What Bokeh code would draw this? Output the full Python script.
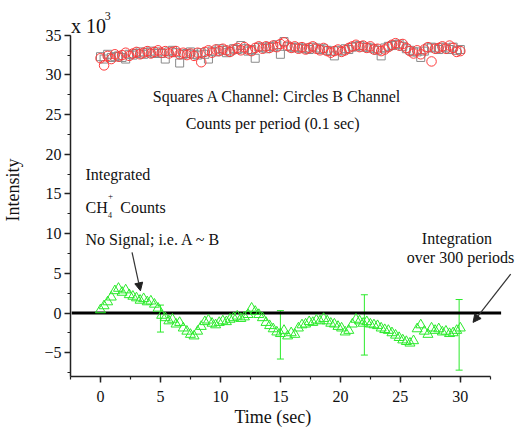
import math
from bokeh.plotting import figure
from bokeh.models import (Label, Arrow, NormalHead, Whisker, TeeHead, Title,
                          ColumnDataSource, SingleIntervalTicker)
from bokeh.embed import file_html
from bokeh.resources import INLINE

# ---------------- data (intensity in units of 10^3) ----------------
time_s = [round(i * 0.3, 1) for i in range(101)]

channel_a = [32.3, 32.0, 32.6, 32.2, 32.3, 32.4,
             32.2, 32.0, 32.6, 32.5, 32.7, 32.9, 32.6, 32.8, 33.0, 32.7,
             32.9, 32.7, 32.0, 32.9, 33.1, 32.8, 31.5, 32.6, 32.7,
             32.9, 32.6, 32.5, 32.8,
             32.6, 32.0, 33.0, 32.9, 33.3, 33.1, 32.8, 33.0, 33.3,
             33.2, 33.7, 33.3, 33.0, 33.2, 32.1, 33.5,
             33.5, 33.3, 33.6, 33.5, 33.8, 32.6, 34.2, 33.6, 33.5, 33.4,
             33.5, 33.3, 33.4, 33.2, 33.5, 33.4, 33.2, 33.3, 33.1,
             33.0, 32.4, 33.1, 33.0, 33.3, 33.2, 33.5,
             33.6, 33.7, 33.5, 33.5, 33.4, 33.3,
             33.1, 32.4, 33.4, 33.6, 33.7,
             33.8, 33.9, 33.6, 33.3,
             33.1, 32.9, 32.9, 32.2, 33.0,
             33.4, 33.5, 33.4, 33.2,
             33.5, 33.4, 33.2, 33.5, 33.1, 33.2]

channel_b = [32.1, 31.2, 32.4, 32.0, 32.6, 32.3,
             32.5, 32.8, 32.4, 32.7, 32.9, 32.6, 32.8, 33.0, 32.7, 32.9,
             33.1, 32.8, 33.0, 32.7, 32.9, 33.0, 32.6, 32.8, 32.5,
             32.7, 32.4, 32.8, 31.6,
             32.9, 33.1, 32.8, 33.2, 33.0, 33.3, 33.1, 32.9, 33.2,
             33.4, 33.1, 33.5, 33.2, 33.0, 33.4, 33.6,
             33.3, 33.6, 33.4, 33.7, 33.5, 33.9, 34.1, 33.7, 33.4, 33.6,
             33.3, 33.5, 33.2, 33.4, 33.6, 33.3, 33.1, 33.4, 33.0,
             32.8, 33.0, 33.2, 32.9, 33.1, 33.4, 33.6,
             33.8, 33.5, 33.7, 33.4, 33.6, 33.2,
             33.3, 33.0, 33.2, 33.5, 33.8,
             34.0, 33.7, 33.9, 33.4,
             33.0, 32.7, 33.1, 32.6, 33.2,
             33.5, 31.7, 33.3, 33.4,
             33.6, 33.3, 33.7, 33.4, 32.9, 33.0]

integrated = [0.4, 0.9, 1.4, 2.0, 2.8, 3.1, 2.6, 2.9, 2.3, 2.1,
              1.9, 1.6, 1.8, 1.4, 1.5, 1.1, 0.6, -0.3, -0.6, -1.0,
              -0.8, -1.4, -1.2, -1.9, -2.3, -2.7, -2.9, -2.3, -1.7, -1.1,
              -0.9, -1.3, -1.5, -1.2, -1.0, -1.1, -0.8, -0.6, -0.4, -0.7,
              -0.5, -0.2, 0.6, 0.2, -0.2, -0.6, -1.2, -1.6, -2.0, -2.4,
              -2.6, -2.2, -2.9, -2.5, -2.7, -1.9, -1.5, -1.4, -1.1, -1.2,
              -0.9, -1.0, -0.7, -1.0, -1.3, -1.4, -1.7, -1.9, -2.4, -2.2,
              -1.4, -0.8, -1.0, -1.3, -1.1, -1.4, -1.5, -1.6, -1.9, -2.1,
              -2.2, -2.5, -2.8, -3.1, -3.4, -3.6, -3.8, -3.5, -2.0, -1.5,
              -2.3, -2.7, -1.9, -2.2, -2.0, -2.4, -2.3, -2.6, -2.5, -2.2,
              -1.9]

err_x = [5.0, 15.0, 22.0, 29.9]
err_center = [-0.7, -2.75, -1.5, -2.75]
err_half = [1.7, 3.05, 3.8, 4.45]

zero_line_x = [-2.4, 33.4]
zero_line_y = [0, 0]

FONT = "Liberation Serif"
RED = "#ff3b3b"
GRAY = "#8a8a8a"
GREEN = "#2bea2b"
AXIS = "#222222"

p = figure(width=515, height=430, output_backend="svg", toolbar_location=None,
           x_range=(-2.5, 34.6), y_range=(-8, 39),
           min_border_left=69, min_border_right=0,
           min_border_top=3, min_border_bottom=54)
p.outline_line_color = None
p.grid.visible = False
p.background_fill_color = "white"
p.border_fill_color = "white"

p.xaxis.ticker = SingleIntervalTicker(interval=5, num_minor_ticks=2)
p.yaxis.ticker = SingleIntervalTicker(interval=5, num_minor_ticks=2)
p.xaxis.bounds = (-2.5, 32.5)
p.yaxis.bounds = (-8, 35)
for ax in (p.xaxis, p.yaxis):
    ax.axis_line_color = AXIS
    ax.axis_line_width = 1.5
    ax.major_tick_line_color = AXIS
    ax.minor_tick_line_color = AXIS
    ax.major_tick_line_width = 1.5
    ax.minor_tick_line_width = 1.2
    ax.major_tick_out = 6
    ax.major_tick_in = 0
    ax.minor_tick_out = 3
    ax.minor_tick_in = 0
    ax.major_label_text_font = FONT
    ax.major_label_text_font_size = "16px"
    ax.major_label_text_color = "#111111"
p.xaxis.major_label_standoff = 8
p.yaxis.major_label_standoff = 3

p.yaxis.axis_label = "Intensity"
p.yaxis.axis_label_text_font = FONT
p.yaxis.axis_label_text_font_size = "18px"
p.yaxis.axis_label_text_font_style = "normal"
p.yaxis.axis_label_text_color = "#111111"
p.yaxis.axis_label_standoff = 18

p.add_layout(Title(text="Time (sec)", align="left", offset=164, standoff=0,
                   text_font=FONT, text_font_size="18px",
                   text_font_style="normal", text_color="#111111"), "below")

# zero line
p.line(zero_line_x, zero_line_y, line_color="black", line_width=3)

src = ColumnDataSource(dict(t=time_s, a=channel_a, b=channel_b, g=integrated))
p.scatter("t", "a", source=src, marker="square", size=8, fill_color=None,
          line_color=GRAY, line_width=1)
p.scatter("t", "b", source=src, marker="circle", size=9.5, fill_color=None,
          line_color=RED, line_width=1)
p.scatter("t", "g", source=src, marker="triangle", size=10, fill_color=None,
          line_color=GREEN, line_width=1)

esrc = ColumnDataSource(dict(
    x=err_x,
    upper=[c + h for c, h in zip(err_center, err_half)],
    lower=[c - h for c, h in zip(err_center, err_half)]))
p.add_layout(Whisker(base="x", upper="upper", lower="lower", source=esrc,
                     dimension="height", line_color=GREEN, line_width=1,
                     upper_head=TeeHead(size=7, line_color=GREEN, line_width=1),
                     lower_head=TeeHead(size=7, line_color=GREEN, line_width=1)))

def lab(x, y, text, size=16, align="left", baseline="alphabetic", angle=0):
    p.add_layout(Label(x=x, y=y, text=text, text_font=FONT,
                       text_font_size=f"{size}px", text_color="#111111",
                       text_align=align, text_baseline=baseline, angle=angle))

# multiplier
lab(-2.45, 36.2, "x 10", size=20)
lab(0.35, 37.4, "3", size=12)

# annotations
lab(14.75, 27.3, "Squares A Channel: Circles B Channel", align="center")
lab(14.35, 23.9, "Counts per period (0.1 sec)", align="center")
lab(-1.25, 17.4, "Integrated")
lab(-1.25, 13.3, "CH")
lab(0.62, 12.3, "4", size=8)
lab(0.62, 14.8, "+", size=9)
lab(1.65, 13.3, "Counts")
lab(-1.25, 9.2, "No Signal; i.e. A ~ B")
lab(29.72, 9.4, "Integration", align="center")
lab(34.5, 7.0, "over 300 periods", align="right")

arrow_1 = dict(x_start=2.63, y_start=7.65, x_end=3.33, y_end=2.8)
arrow_2 = dict(x_start=34.2, y_start=4.9, x_end=31.06, y_end=-1.18)
for a in (arrow_1, arrow_2):
    p.add_layout(Arrow(end=NormalHead(size=8, fill_color="#222222",
                                      line_color="#222222", line_width=1),
                       line_color="#333333", line_width=1.2, **a))

open("out.html", "w").write(file_html(p, INLINE))
